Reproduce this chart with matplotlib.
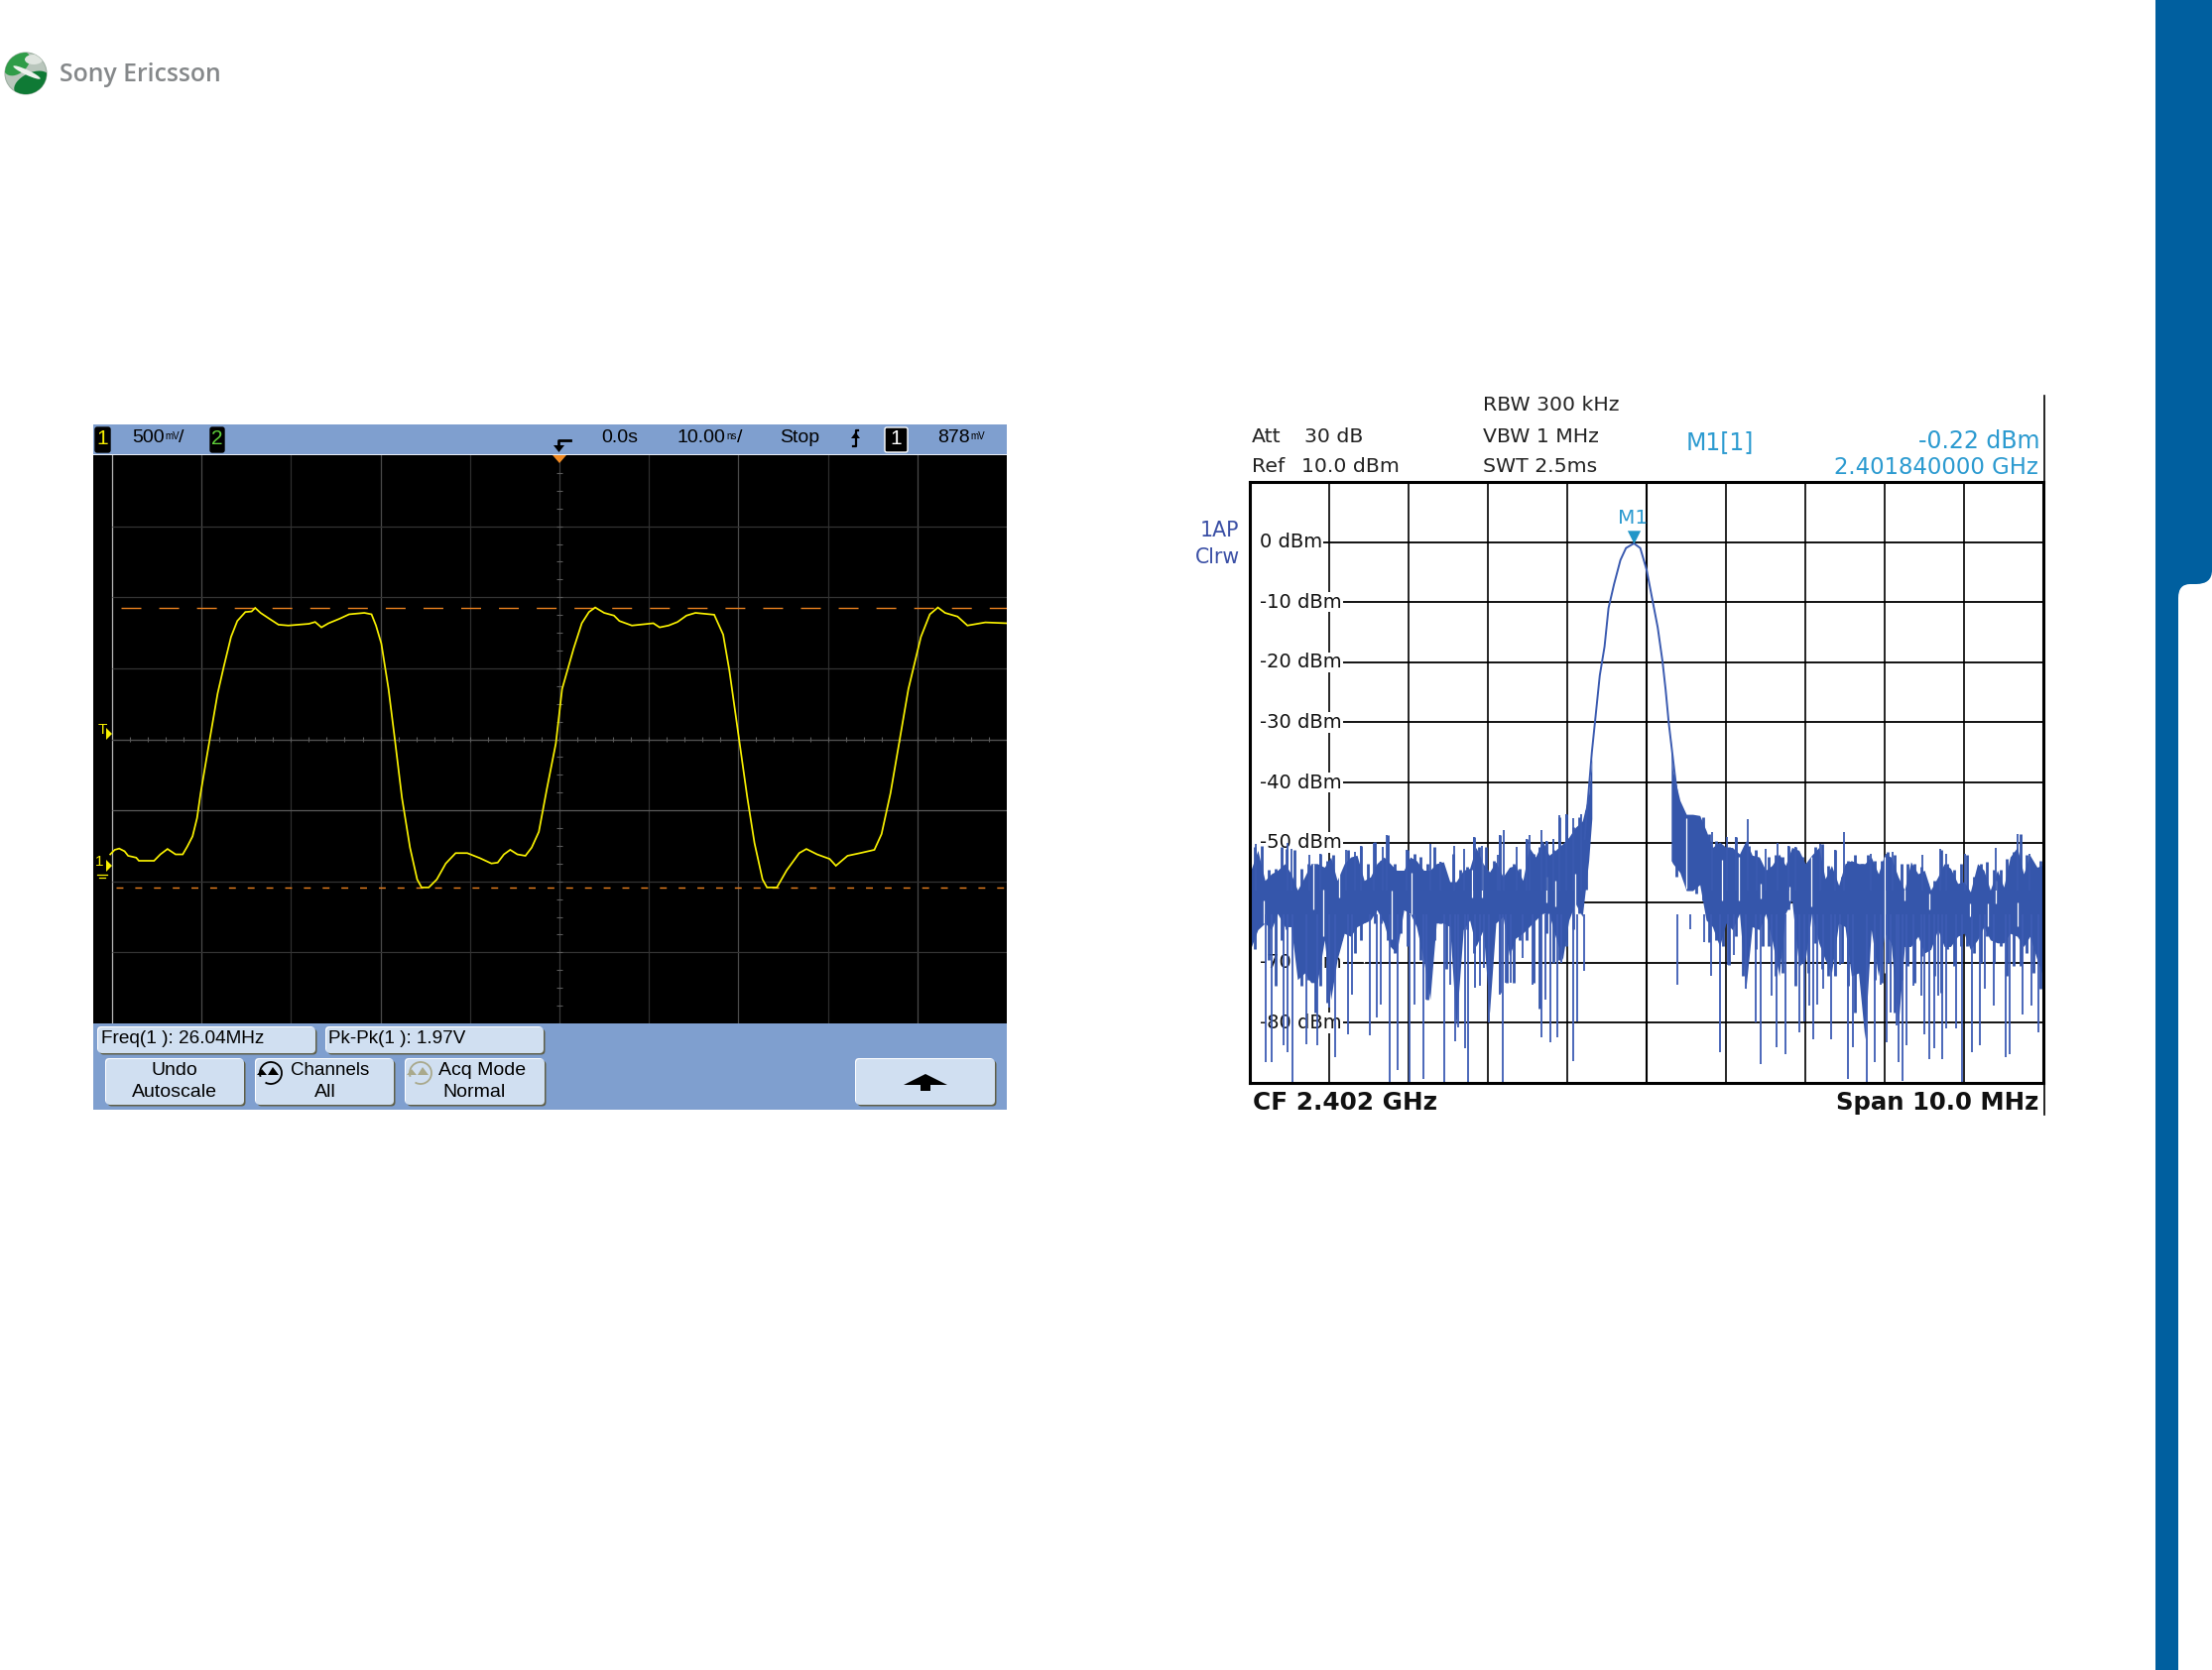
import numpy as np
import matplotlib
matplotlib.use("Agg")
import matplotlib.pyplot as plt
from matplotlib.patches import Circle, Ellipse, FancyBboxPatch, PathPatch, Polygon, Rectangle, Arc
from matplotlib.path import Path

W, H = 2230, 1684

# oscilloscope trace, ns / V
scope_t = [-50.2, -49.7, -49.2, -48.6, -48.2, -47.3, -47.0, -45.3, -44.6, -43.8, -42.9, -42.1, -41.6, -41.0, -40.5, -40.1,
           -39.2, -38.2, -37.5, -36.7, -36.0, -35.1, -34.4, -34.0, -33.4, -32.4, -31.4, -30.3, -28.0, -27.3, -26.6, -25.8,
           -24.6, -23.5, -21.8, -21.0, -20.5, -19.9, -19.1, -18.4, -17.6, -16.7, -15.9, -15.4, -14.6, -13.7, -12.7, -11.6,
           -10.3, -8.9, -7.6, -6.9, -6.2, -5.5, -4.7, -3.8, -3.1, -2.3, -1.4, -0.4, 0.3, 1.6, 2.5, 3.3, 4.0, 5.0, 6.1, 6.7,
           8.1, 10.5, 11.2, 12.2, 13.2, 14.2, 15.2, 17.3, 18.3, 19.0, 20.0, 21.0, 21.8, 22.7, 23.2, 24.3, 25.4, 26.8, 27.6,
           28.8, 30.2, 30.9, 32.2, 33.6, 35.2, 36.0, 37.0, 38.0, 39.0, 40.4, 41.4, 42.3, 43.1, 44.5, 45.6, 47.6, 50.0]
scope_v = [0.068, 0.100, 0.109, 0.090, 0.058, 0.045, 0.023, 0.023, 0.068, 0.106, 0.068, 0.068, 0.122, 0.195, 0.323, 0.498,
           0.833, 1.200, 1.392, 1.599, 1.711, 1.774, 1.778, 1.803, 1.768, 1.726, 1.685, 1.679, 1.691, 1.704, 1.666, 1.695,
           1.726, 1.758, 1.768, 1.758, 1.679, 1.551, 1.232, 0.881, 0.467, 0.116, -0.108, -0.165, -0.165, -0.108, 0.004, 0.077,
           0.077, 0.042, 0.004, 0.010, 0.068, 0.100, 0.068, 0.058, 0.116, 0.227, 0.530, 0.849, 1.232, 1.519, 1.695, 1.774, 1.806, 1.768, 1.749, 1.711,
           1.679, 1.695, 1.666, 1.679, 1.704, 1.749, 1.768, 1.755, 1.615, 1.360, 0.913, 0.467, 0.148, -0.108, -0.165, -0.165, -0.044, 0.077, 0.106,
           0.068, 0.036, -0.012, 0.058, 0.077, 0.100, 0.211, 0.498, 0.865, 1.232, 1.599, 1.758, 1.806, 1.768, 1.742, 1.679, 1.701, 1.695]
cursor_v = [1.806, -0.168]

# spectrum: main lobe, MHz / dBm
lobe_f = [2401.22, 2401.26, 2401.31, 2401.36, 2401.41, 2401.47, 2401.52, 2401.59, 2401.67, 2401.74, 2401.84, 2401.92, 2402.00,
          2402.07, 2402.14, 2402.20, 2402.24, 2402.28, 2402.33, 2402.38]
lobe_db = [-49.4, -43.0, -35.0, -28.6, -22.2, -17.4, -11.0, -7.0, -3.0, -1.0, -0.22, -1.0, -4.6, -9.4, -14.2, -19.8, -24.6, -30.2, -35.8, -41.4]
peak_f, peak_db = 2401.84, -0.22

# noise floor band left of the lobe
left_f = [2397.00, 2397.02, 2397.10, 2397.19, 2397.27, 2397.35, 2397.44, 2397.52, 2397.60, 2397.69, 2397.77, 2397.85, 2397.94, 2398.02, 2398.10,
          2398.19, 2398.27, 2398.35, 2398.44, 2398.52, 2398.60, 2398.69, 2398.77, 2398.85, 2398.94, 2399.02, 2399.10,
          2399.19, 2399.27, 2399.35, 2399.44, 2399.52, 2399.60, 2399.69, 2399.77, 2399.85, 2399.94, 2400.02, 2400.10,
          2400.19, 2400.27, 2400.35, 2400.44, 2400.52, 2400.60, 2400.69, 2400.77, 2400.85, 2400.94, 2401.02, 2401.10,
          2401.19, 2401.27, 2401.31]
left_top = [-54.3, -54.3, -51.3, -56.3, -55.2, -54.6, -53.5, -55.2, -57.9, -55.7, -53.5, -53.5, -54.1, -52.4, -56.3,
            -53.5, -52.4, -52.1, -56.3, -55.7, -53.5, -52.4, -53.5, -54.6, -54.6, -52.4, -53.0,
            -54.6, -54.6, -53.5, -53.2, -56.5, -56.5, -54.6, -54.3, -50.8, -53.5, -54.9, -53.2,
            -55.7, -54.1, -53.8, -56.3, -50.8, -52.4, -49.7, -52.1, -51.3, -50.2, -49.1, -47.5,
            -46.4, -42.0, -36.0]
left_bot = [-67.3, -67.3, -64.5, -63.4, -64.5, -61.8, -64.0, -64.0, -72.8, -71.7, -73.3, -73.3, -66.2, -76.1, -69.5,
            -65.1, -65.6, -64.0, -63.4, -62.9, -61.2, -63.4, -67.3, -68.4, -61.2, -61.8, -64.0,
            -69.5, -76.1, -63.4, -63.4, -64.0, -80.5, -64.5, -62.9, -67.3, -64.5, -78.3, -63.4,
            -62.3, -68.9, -65.9, -65.1, -64.0, -62.9, -61.8, -61.8, -65.6, -69.5, -62.9, -60.1,
            -62.3, -53.0, -46.0]

# noise floor band right of the lobe
right_f = [2402.31, 2402.33, 2402.42, 2402.50, 2402.58, 2402.67, 2402.75, 2402.83, 2402.92, 2403.00, 2403.08, 2403.17, 2403.25,
           2403.33, 2403.42, 2403.50, 2403.58, 2403.67, 2403.75, 2403.83, 2403.92, 2404.00, 2404.08, 2404.17, 2404.25,
           2404.33, 2404.42, 2404.50, 2404.58, 2404.67, 2404.75, 2404.83, 2404.92, 2405.00, 2405.08, 2405.17, 2405.25,
           2405.33, 2405.42, 2405.50, 2405.58, 2405.67, 2405.75, 2405.83, 2405.92, 2406.00, 2406.08, 2406.17, 2406.25,
           2406.33, 2406.42, 2406.50, 2406.58, 2406.67, 2406.75, 2406.83, 2406.92, 2406.98, 2407.00]
right_top = [-33.0, -38.0, -43.0, -45.3, -45.3, -45.5, -48.0, -50.8, -49.9, -50.8, -50.8, -51.9, -49.7,
             -52.1, -52.4, -54.6, -53.8, -51.9, -53.8, -50.8, -51.3, -53.5, -52.1, -50.8, -56.0,
             -53.8, -57.1, -53.5, -53.0, -53.5, -53.5, -52.4, -55.2, -51.9, -52.4, -55.7, -57.9,
             -53.2, -55.2, -54.6, -57.9, -55.7, -53.5, -54.3, -56.8, -56.5, -58.2, -53.5, -54.6,
             -57.9, -54.6, -57.4, -52.4, -50.8, -55.2, -52.1, -54.1, -53.8, -53.8]
right_bot = [-53.0, -53.5, -55.0, -58.0, -58.0, -57.0, -62.9, -64.0, -67.3, -63.4, -64.5, -61.8, -74.4,
             -64.0, -64.5, -61.8, -66.2, -72.2, -61.8, -59.6, -70.6, -69.5, -61.8, -66.7, -69.5,
             -71.7, -63.4, -64.0, -72.2, -71.7, -82.7, -64.5, -72.2, -65.1, -66.7, -80.5, -67.3,
             -67.3, -65.6, -68.4, -67.8, -64.5, -67.3, -67.3, -65.6, -65.1, -67.8, -66.2, -64.0,
             -66.2, -66.7, -66.7, -65.1, -65.6, -67.3, -65.6, -69.5, -71.7, -71.7]

# narrow teeth between the band columns
tooth_f = [2397.06, 2397.15, 2397.24, 2397.32, 2397.40, 2397.46, 2397.56, 2397.65, 2397.74, 2397.82, 2397.89, 2397.98, 2398.05, 2398.15,
           2398.24, 2398.32, 2398.40, 2398.49, 2398.57, 2398.65, 2398.74, 2398.82, 2398.90, 2398.99, 2399.07, 2399.15, 2399.24, 2399.32, 2399.40,
           2399.48, 2399.56, 2399.65, 2399.74, 2399.82, 2399.89, 2399.98, 2400.07, 2400.15, 2400.24, 2400.32, 2400.40, 2400.49, 2400.57, 2400.65,
           2400.74, 2400.82, 2400.90, 2400.99, 2401.07, 2401.15, 2401.24,
           2402.38, 2402.46, 2402.63, 2402.71, 2402.79, 2402.88, 2402.96, 2403.04, 2403.13, 2403.21, 2403.29, 2403.38, 2403.46, 2403.54,
           2403.63, 2403.71, 2403.79, 2403.88, 2403.96, 2404.04, 2404.13, 2404.21, 2404.29, 2404.38, 2404.46,
           2404.54, 2404.63, 2404.71, 2404.79, 2404.88, 2404.96, 2405.04, 2405.13, 2405.21, 2405.29, 2405.38, 2405.46, 2405.54, 2405.63,
           2405.71, 2405.79, 2405.88, 2405.96, 2406.04, 2406.13, 2406.21, 2406.29, 2406.38, 2406.46, 2406.54, 2406.63, 2406.71, 2406.79, 2406.88, 2406.96]
tooth_top = [-50.8, -50.5, -54.6, -54.3, -50.8, -51.0, -51.3, -54.3, -53.5, -54.1, -51.9, -53.0, -52.1, -55.7,
             -51.3, -53.5, -50.5, -53.5, -49.9, -53.0, -48.8, -53.5, -55.7, -51.3, -51.9, -52.4, -53.5, -50.8, -53.2,
             -55.7, -51.9, -54.6, -54.1, -49.1, -50.8, -50.8, -53.0, -48.8, -55.7, -53.5, -54.3, -49.4, -51.9, -50.8,
             -49.7, -51.3, -45.8, -45.3, -47.5, -45.8, -44.7,
             -45.3, -45.3, -45.8, -45.8, -48.6, -49.7, -51.0, -50.8, -49.1, -51.9, -50.5, -51.3, -56.8, -52.4,
             -52.1, -52.4, -50.5, -50.8, -52.4, -53.5, -50.8, -50.2, -53.8, -51.3, -55.7,
             -53.0, -52.1, -53.5, -52.1, -53.0, -53.0, -51.6, -52.1, -53.5, -53.5, -53.5, -54.1, -56.8, -56.3,
             -51.3, -53.5, -54.6, -53.5, -52.1, -55.7, -53.5, -53.2, -54.6, -54.6, -52.7, -51.6, -48.6, -52.1, -54.6, -53.0]
tooth_bot = [-67.8, -61.8, -69.5, -73.9, -66.2, -64.5, -64.0, -73.9, -72.8, -78.3, -73.9, -76.6, -70.0, -66.2,
             -64.5, -68.4, -66.2, -62.3, -63.4, -63.4, -66.2, -68.4, -65.1, -67.3, -62.9, -69.5, -76.1, -66.2, -63.4,
             -71.1, -65.6, -66.7, -64.5, -68.4, -66.2, -63.4, -64.5, -75.0, -73.3, -73.3, -66.2, -66.2, -73.3, -77.7,
             -65.1, -70.0, -69.5, -67.3, -64.5, -61.8, -57.9,
             -55.7, -55.2, -58.5, -59.6, -66.5, -66.2, -67.3, -70.3, -65.6, -72.2, -59.6, -67.8, -67.3, -67.3,
             -72.2, -71.7, -61.2, -73.9, -70.0, -71.7, -66.7, -71.1, -72.2, -72.2, -70.0,
             -73.9, -78.3, -67.8, -67.8, -72.8, -73.3, -70.0, -78.3, -72.8, -70.6, -73.3, -68.9, -67.8, -72.2,
             -75.0, -67.8, -70.6, -67.3, -67.3, -68.4, -70.0, -65.6, -70.0, -67.3, -72.2, -70.6, -70.6, -68.4, -71.7, -74.4]

# white gaps inside the band
slit_f = [2397.18, 2397.80, 2397.93, 2398.12, 2398.44, 2398.79, 2399.04, 2399.80, 2399.93, 2400.74, 2400.85, 2401.10,
          2402.50, 2402.95, 2403.16, 2403.44, 2403.80, 2404.08, 2405.00, 2405.25, 2405.56, 2406.08, 2406.30, 2406.40, 2406.67]
slit_top = [-59.6, -53.5, -57.9, -55.2, -63.4, -58.0, -55.0, -54.6, -52.4, -55.7, -56.3, -55.2,
            -46.0, -52.8, -52.4, -56.8, -57.4, -52.4, -52.4, -57.9, -58.5, -60.1, -60.1, -56.3, -60.0]
slit_bot = [-63.4, -61.2, -65.6, -59.1, -70.0, -66.0, -62.0, -59.1, -59.1, -60.0, -60.7, -61.8,
            -57.7, -59.6, -59.6, -59.3, -59.6, -60.7, -71.7, -59.6, -61.2, -62.3, -64.0, -60.1, -64.0]

# downward dropouts
drop_f = [2397.20, 2397.28, 2397.42, 2397.48, 2397.54, 2397.71, 2397.85, 2398.00, 2398.08, 2398.24, 2398.29, 2398.51, 2398.60, 2398.65,
          2398.76, 2398.86, 2399.01, 2399.08, 2399.19, 2399.22, 2399.45, 2399.53, 2399.59, 2399.62, 2399.71, 2399.75, 2399.84, 2399.90,
          2399.95, 2400.01, 2400.15, 2400.19, 2400.22, 2400.29, 2400.44, 2400.56, 2400.67, 2400.73, 2400.79, 2400.87, 2400.93, 2401.07,
          2401.13, 2401.21, 2402.39, 2402.55, 2402.73, 2402.81, 2402.92, 2403.03, 2403.10, 2403.25, 2403.38, 2403.44, 2403.58, 2403.64,
          2403.75, 2403.88, 2403.92, 2403.99, 2404.05, 2404.10, 2404.15, 2404.23, 2404.32, 2404.38, 2404.44, 2404.54, 2404.60, 2404.77,
          2404.88, 2404.95, 2405.02, 2405.08, 2405.15, 2405.18, 2405.22, 2405.28, 2405.36, 2405.46, 2405.50, 2405.56, 2405.62, 2405.67,
          2405.72, 2405.78, 2405.90, 2405.98, 2406.10, 2406.20, 2406.26, 2406.38, 2406.52, 2406.58, 2406.74, 2406.85, 2406.94]
drop_db = [-86.5, -86.5, -83.8, -84.9, -89.8, -83.5, -83.8, -77.5, -85.7, -81.9, -75.3, -82.1, -79.1, -76.9,
           -89.8, -87.9, -89.8, -76.9, -89.3, -76.1, -90.0, -73.6, -83.0, -80.8, -84.3, -90.0, -74.2, -73.9,
           -70.9, -79.9, -75.3, -89.8, -73.3, -73.3, -69.2, -73.6, -82.4, -76.1, -83.2, -82.4, -70.0, -86.3,
           -79.7, -71.4, -73.6, -64.5, -66.5, -72.2, -84.9, -70.3, -68.7, -74.4, -79.9, -86.8, -75.5, -84.1,
           -85.2, -73.9, -81.6, -79.7, -77.2, -82.7, -76.9, -74.4, -82.7, -72.2, -70.3, -89.3, -84.1, -90.0,
           -86.5, -73.6, -83.2, -78.3, -80.5, -86.5, -89.6, -83.8, -73.9, -75.5, -81.9, -86.0, -84.3, -75.5,
           -86.0, -81.0, -81.0, -89.8, -84.9, -83.8, -74.4, -77.2, -85.7, -85.2, -78.6, -77.2, -81.6]

# upward spikes
spike_f = [2397.08, 2397.48, 2397.53, 2397.75, 2397.89, 2398.21, 2398.33, 2398.40, 2398.56, 2398.67, 2398.73, 2398.98, 2399.27, 2399.40,
           2399.58, 2399.70, 2399.83, 2399.93, 2400.12, 2400.15, 2400.20, 2400.36, 2400.49, 2400.53, 2400.68, 2400.74, 2400.83, 2400.90,
           2400.99, 2401.08, 2401.18, 2402.82, 2403.01, 2403.13, 2403.27, 2403.39, 2403.50, 2403.65, 2403.79, 2403.88, 2404.19, 2404.38,
           2404.49, 2404.83, 2405.02, 2405.10, 2405.48, 2405.70, 2405.77, 2406.01, 2406.40, 2406.68, 2406.83]
spike_db = [-50.2, -50.0, -51.0, -52.1, -51.9, -51.3, -51.6, -50.5, -50.0, -50.8, -48.8, -51.3, -50.2, -53.2,
            -50.5, -51.0, -49.1, -50.5, -52.1, -48.8, -48.0, -50.8, -49.4, -48.8, -48.0, -49.7, -49.4, -45.5,
            -45.3, -46.0, -45.3, -48.3, -49.1, -49.1, -46.1, -51.6, -51.0, -50.0, -50.5, -50.8, -50.2, -51.3,
            -48.3, -51.9, -51.8, -51.6, -52.1, -51.0, -51.9, -51.9, -50.9, -48.6, -51.9]

level_ticks = [0, -10, -20, -30, -40, -50, -60, -70, -80]
level_labels = ["0 dBm", "-10 dBm", "-20 dBm", "-30 dBm", "-40 dBm", "-50 dBm", "", "-70 dBm", "-80 dBm"]
freq_ticks = [2398, 2399, 2400, 2401, 2402, 2403, 2404, 2405, 2406]

PANEL = "#7f9fcf"
BTN = "#d0dff1"
BLUE = "#3556ab"
CYAN = "#2b9ad0"
NARROW = ["Liberation Sans"]

plt.rcParams["font.family"] = ["DejaVu Sans"]
fig = plt.figure(figsize=(W / 100, H / 100), dpi=100, facecolor="white")

# page layers in pixels
bg = fig.add_axes([0, 0, 1, 1])
bg.set_xlim(0, W); bg.set_ylim(H, 0); bg.axis("off")
fg = fig.add_axes([0, 0, 1, 1], zorder=10)
fg.set_xlim(0, W); fg.set_ylim(H, 0); fg.axis("off")


def axes_px(x0, y0, x1, y1):
    return fig.add_axes([x0 / W, 1 - y1 / H, (x1 - x0) / W, (y1 - y0) / H])


def txt(x, y, s, size=14, color="black", ha="left", family=None, **kw):
    fg.text(x, y, s, fontsize=size, color=color, ha=ha, va="center", family=family or NARROW, zorder=10, **kw)


def button(x0, y0, x1, y1, face=BTN):
    for dx, col in [(1.5, "#5f5f48"), (-1, "white")]:
        bg.add_patch(FancyBboxPatch((x0 + dx, y0 + dx), x1 - x0, y1 - y0, boxstyle="round,pad=0,rounding_size=4",
                                    fc=col, ec="none", zorder=3))
    bg.add_patch(FancyBboxPatch((x0, y0), x1 - x0, y1 - y0, boxstyle="round,pad=0,rounding_size=4",
                                fc=face, ec="none", zorder=4))


# side bar
sidebar = Path([(2173, 0), (2230, 0), (2230, 575), (2230, 589), (2214, 589), (2208, 589), (2196, 589), (2196, 603),
                (2196, H), (2173, H), (2173, 0)],
               [Path.MOVETO, Path.LINETO, Path.LINETO, Path.CURVE3, Path.CURVE3, Path.LINETO, Path.CURVE3, Path.CURVE3,
                Path.LINETO, Path.LINETO, Path.CLOSEPOLY])
bg.add_patch(PathPatch(sidebar, fc="#005f9f", ec="none"))

# logo
disc = Circle((26, 74), 21, fc="#b9c6bc", ec="#9fb0a3", lw=0.8, zorder=2)
bg.add_patch(disc)
for xy, w, h, ang, col in [((17, 64), 30, 20, -40, "#2f9c48"), ((32, 84), 38, 21, -25, "#0f7a35"),
                           ((27, 73), 30, 5, 25, "#eef2ee"), ((34, 60), 18, 10, 0, "#dfe5df")]:
    e = Ellipse(xy, w, h, angle=ang, fc=col, ec="none", zorder=3)
    bg.add_patch(e); e.set_clip_path(disc)
txt(60, 75, "Sony Ericsson", size=17.8, color="#85888a", family="Open Sans", fontweight="semibold")

# oscilloscope panel
bg.add_patch(Rectangle((94, 428), 921, 691, fc=PANEL, ec="none", zorder=1))
bg.plot([94, 1015], [458.5, 458.5], color="white", lw=1.2, zorder=2)

sc = axes_px(94, 459, 1015, 1032)
sc.set_facecolor("black")
sc.set_xlim(-52.1, 50); sc.set_ylim(-1.122, 2.878)
sc.set_xticks([]); sc.set_yticks([])
for s in sc.spines.values():
    s.set_visible(False)
for t in [-40, -30, -20, -10, 10, 20, 30, 40]:
    sc.axvline(t, color="#2e2e2e" if t % 20 else "#4a4a4a", lw=0.9)
sc.axvline(-50, color="#b8b8b8", lw=0.9)
sc.axvline(0, color="#3a3a3a", lw=0.9)
for v in np.arange(-0.622, 2.8, 0.5):
    sc.hlines(v, -50, 50, color="#5a5a5a" if abs(v - 0.378) < 0.01 else "#333333", lw=0.9)
sc.hlines(0.878, -50, 50, color="#505050", lw=0.9)
sc.vlines(np.arange(-48, 50, 2), 0.858, 0.898, color="#5a5a5a", lw=0.8)
sc.hlines(np.arange(-1.122, 2.878, 0.125), -0.35, 0.35, color="#5a5a5a", lw=0.8)
sc.plot([-49, 50], [cursor_v[0], cursor_v[0]], color="#e9801f", lw=1.0, dashes=(14.4, 13))
sc.plot([-49.6, 50], [cursor_v[1], cursor_v[1]], color="#e9801f", lw=1.0, dashes=(5, 8.6))
sc.plot(scope_t, scope_v, color="#f8f000", lw=1.25, solid_joinstyle="miter")

# scope top bar
for x0, x1, lab, col, ec in [(96, 111, "1", "#f8f000", "black"), (212, 226, "2", "#5fd03a", "black"), (892, 915, "1", "#f8f000", "white")]:
    fg.add_patch(FancyBboxPatch((x0, 431), x1 - x0, 25, boxstyle="round,pad=0,rounding_size=2", fc="black", ec=ec, lw=1, zorder=5))
    txt((x0 + x1) / 2, 442, lab, color=col if ec == "black" else "white", ha="center", size=15)
txt(133, 442, "500", size=14)
txt(166, 440, "mV", size=7)
txt(180, 442, "/", size=14)
txt(606, 442, "0.0s", size=14)
txt(683, 442, "10.00", size=14)
txt(732, 440, "ns", size=7)
txt(743, 442, "/", size=14)
txt(786, 442, "Stop", size=14)
txt(945, 442, "878", size=14)
txt(978, 440, "mV", size=7)
fg.plot([860, 862.5, 862.5, 865], [450, 450, 434, 434], color="black", lw=1.6, zorder=6)
fg.add_patch(Polygon([(858, 442), (867, 442), (862.5, 436)], fc="black", ec="none", zorder=6))
fg.plot([563, 563, 575], [450, 444, 444], color="black", lw=2, zorder=6)
fg.add_patch(Polygon([(558, 449), (569, 449), (563.5, 456)], fc="black", ec="none", zorder=6))
fg.add_patch(Polygon([(557, 459), (571, 459), (564, 467)], fc="#f08a24", ec="none", zorder=6))

# left strip markers
for y, lab, x in [(740, "T", 103), (873, "1", 100)]:
    txt(x, y - 4, lab, color="#f8f000", ha="center", size=11)
    fg.add_patch(Polygon([(107, y - 6), (113, y), (107, y + 6)], fc="#f8f000", ec="none", zorder=6))
fg.plot([98, 108], [882, 882], color="#f8f000", lw=0.9, zorder=6)
fg.plot([100, 106], [885, 885], color="#f8f000", lw=0.9, zorder=6)

# measurement boxes and buttons
button(99, 1036, 318, 1062); button(329, 1036, 548, 1062)
txt(102, 1048, "Freq(1 ): 26.04MHz", size=13.7)
txt(331, 1048, "Pk-Pk(1 ): 1.97V", size=13.6)
button(107, 1068, 246, 1114); button(258, 1068, 397, 1114); button(409, 1068, 549, 1114); button(863, 1068, 1003, 1114)
txt(176, 1080, "Undo", ha="center"); txt(176, 1102, "Autoscale", ha="center")
txt(333, 1080, "Channels", size=13.5, ha="center"); txt(328, 1102, "All", ha="center")
txt(486, 1080, "Acq Mode", ha="center"); txt(478, 1102, "Normal", ha="center")
for cx, col in [(273, "black"), (424, "#a9a98c")]:
    fg.add_patch(Arc((cx, 1082), 22, 22, theta1=-200, theta2=120, color=col, lw=1.3, zorder=6))
    fg.add_patch(Polygon([(cx - 14, 1084), (cx - 4, 1084), (cx - 9, 1078)], fc=col, ec="none", zorder=6))
    fg.add_patch(Polygon([(cx - 3, 1084), (cx + 8, 1084), (cx + 2, 1076)], fc=col, ec="none", zorder=6))
fg.add_patch(Polygon([(933, 1083), (955, 1094), (938, 1094), (938, 1100), (928, 1100), (928, 1094), (911, 1094)],
                     fc="black", ec="none", zorder=6))

# spectrum
sp = axes_px(1260, 486, 2060, 1092)
sp.set_xlim(2397, 2407); sp.set_ylim(-90, 10)
sp.set_xticks([]); sp.set_yticks([])
for s in sp.spines.values():
    s.set_linewidth(2.2); s.set_zorder(8)
for lev, lab in zip(level_ticks, level_labels):
    sp.hlines(lev, 2397.88 if lev == 0 else 2398.15 if lab else 2397, 2407, color="black", lw=1.3, zorder=1)
sp.vlines(freq_ticks, -90, 10, color="black", lw=1.2, zorder=1)
sp.axvline(2402, color="black", lw=1.5, zorder=1)
for lev, lab in zip(level_ticks, level_labels):
    if lab:
        sp.text(2397.13, lev, lab, fontsize=14, ha="left", va="center", color="#111111", zorder=2,
                bbox=dict(fc="white", ec="none", pad=0.6))
sp.fill_between(left_f, left_bot, left_top, color=BLUE, lw=0, zorder=3)
sp.fill_between(right_f, right_bot, right_top, color=BLUE, lw=0, zorder=3)
sp.vlines(tooth_f, tooth_bot, tooth_top, color=BLUE, lw=2.0, zorder=3)
sp.vlines(slit_f, slit_bot, slit_top, color="white", lw=0.9, zorder=3.5)
sp.vlines(drop_f, -62, drop_db, color="#3d5cb4", lw=1.3, zorder=4)
sp.vlines(spike_f, -58, spike_db, color="#3a5ab0", lw=1.3, zorder=4)
sp.plot(lobe_f, lobe_db, color="#3a5ab0", lw=1.4, zorder=5)
sp.plot([peak_f], [peak_db], marker=[(0, 0), (-1, 2), (1, 2)], ms=19, color="#2196c8", mec="none", zorder=6)

DV = ["DejaVu Sans"]
txt(1495, 409, "RBW 300 kHz", size=14.7, family=DV, color="#222222")
txt(1495, 440, "VBW 1 MHz", size=14.7, family=DV, color="#222222")
txt(1495, 470, "SWT 2.5ms", size=14.7, family=DV, color="#222222")
txt(1262, 440, "Att", size=14.7, family=DV, color="#222222")
txt(1315, 440, "30 dB", size=14.7, family=DV, color="#222222")
txt(1262, 470, "Ref", size=14.7, family=DV, color="#222222")
txt(1312, 470, "10.0 dBm", size=14.7, family=DV, color="#222222")
txt(1700, 446, "M1[1]", size=17, family=DV, color=CYAN)
txt(2057, 445, "-0.22 dBm", size=17, family=DV, color=CYAN, ha="right")
txt(2055, 472, "2.401840000 GHz", size=16.4, family=DV, color=CYAN, ha="right")
txt(1646, 522, "M1", size=14.5, family=DV, color=CYAN, ha="center")
txt(1249, 535, "1AP", size=14.8, family=DV, color="#3a4fa5", ha="right")
txt(1250, 562, "Clrw", size=14.8, family=DV, color="#3a4fa5", ha="right")
txt(1263, 1112, "CF 2.402 GHz", size=17.8, family=DV, color="#111111", fontweight="bold")
txt(2055, 1112, "Span 10.0 MHz", size=17.6, family=DV, color="#111111", fontweight="bold", ha="right")
fg.plot([2061, 2061], [399, 1124], color="black", lw=1.2, zorder=6)

fig.savefig("out.png", dpi=100)
plt.close(fig)
